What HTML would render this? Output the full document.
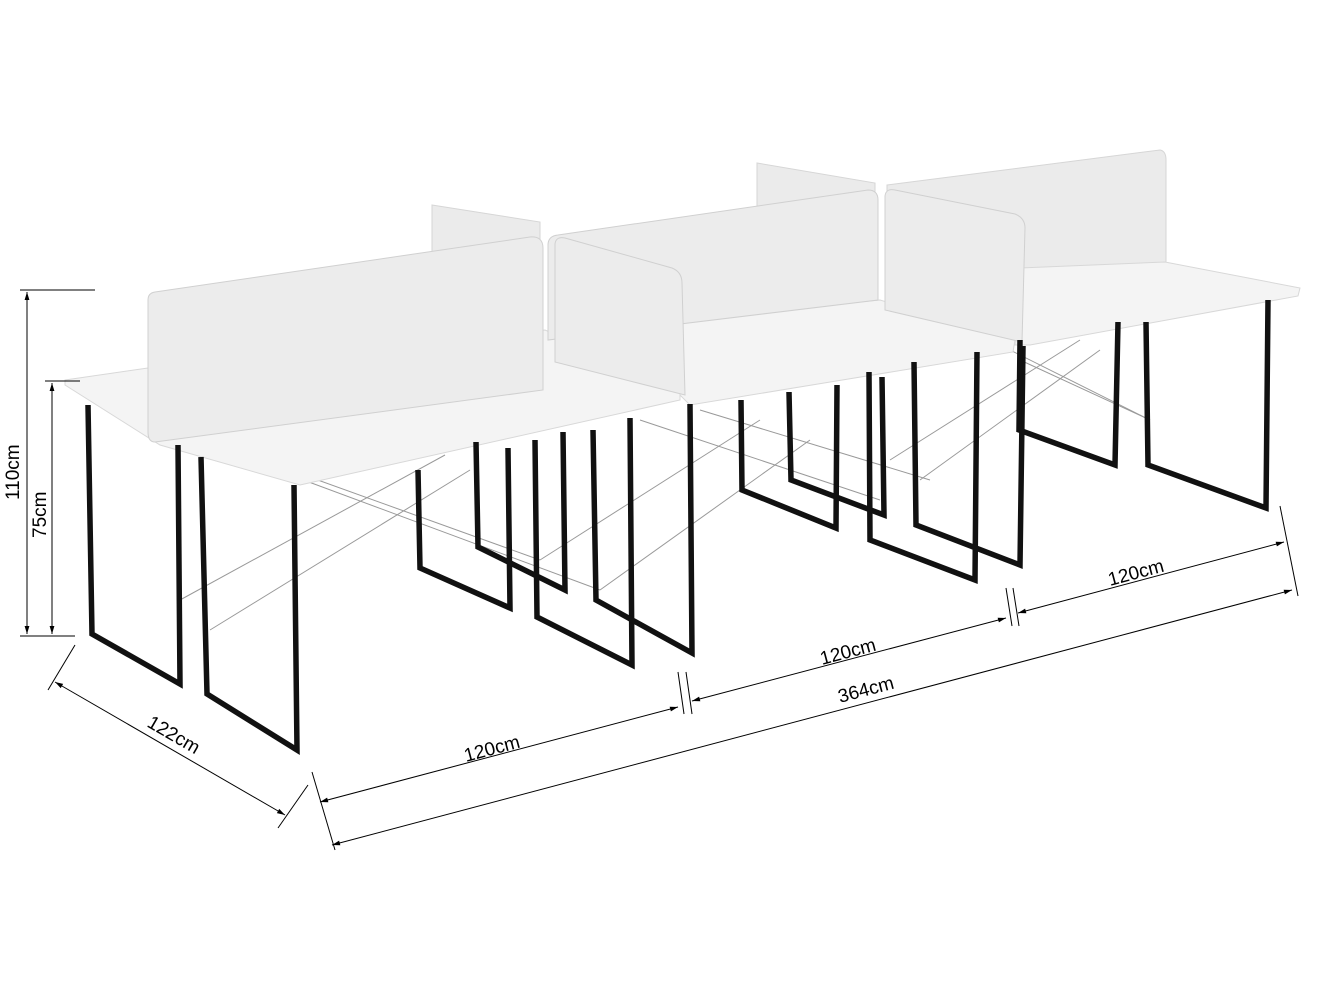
<!DOCTYPE html>
<html><head><meta charset="utf-8"><style>
html,body{margin:0;padding:0;background:#fff;width:1322px;height:991px;overflow:hidden}
svg{display:block}
text{font-family:"Liberation Sans",sans-serif;font-size:19px;fill:#000}
</style></head><body>
<svg width="1322" height="991" viewBox="0 0 1322 991" xmlns="http://www.w3.org/2000/svg">
<defs>
<marker id="a" viewBox="0 0 10 10" refX="10" refY="5" markerWidth="10" markerHeight="8" orient="auto-start-reverse"><path d="M0,2 L10,5 L0,8 z" fill="#000"/></marker>
</defs>
<g stroke="#999" stroke-width="1" fill="none">
<line x1="180" y1="600" x2="445" y2="455"/><line x1="210" y1="630" x2="470" y2="470"/>
<line x1="290" y1="470" x2="540" y2="560"/><line x1="290" y1="475" x2="600" y2="590"/>
<line x1="540" y1="560" x2="760" y2="420"/><line x1="600" y1="590" x2="810" y2="440"/>
<line x1="640" y1="420" x2="880" y2="500"/><line x1="700" y1="410" x2="930" y2="480"/>
<line x1="890" y1="460" x2="1080" y2="340"/><line x1="920" y1="480" x2="1100" y2="350"/>
<line x1="1000" y1="345" x2="1150" y2="420"/><line x1="1020" y1="360" x2="1150" y2="420"/>
</g>
<g fill="#ebebeb" stroke="#d6d6d6">
<path d="M432,205 L540,222 L540,260 L432,260 z"/>
<path d="M757,163 L875,183 L875,250 L757,250 z"/>
<path d="M887,185 L1160,150 Q1166,151 1166,160 L1166,280 L887,300 z"/>
</g>
<g fill="#f4f4f4" stroke="#d8d8d8">
<path d="M1020,268 L1165,262 L1300,288 L1298,296 L1030,345 L1015,345 z"/>
<path d="M555,330 L880,300 L1015,340 L1013,352 L690,405 L680,395 z"/>
<path d="M65,380 L148,368 L545,330 L680,388 L680,400 L300,485 L160,445 L65,385 z"/>
</g>
<g fill="#ececec" stroke="#d0d0d0">
<path d="M548,245 Q548,236 558,235 L868,190 Q878,190 878,200 L878,300 L548,340 z"/>
<path d="M155,292 L530,237 Q543,236 543,248 L543,390 L155,442 Q148,442 148,432 L148,300 Q148,293 155,292 z"/>
<path d="M555,244 Q556,236 565,238 L672,268 Q682,272 682,283 L685,395 L555,362 z"/>
<path d="M885,196 Q886,188 895,190 L1015,214 Q1025,218 1025,228 L1022,342 L885,310 z"/>
</g>
<g stroke="#111" stroke-width="5.5" fill="none">
<path d="M88,405 L92,634 L180,684 L178,445"/>
<path d="M201,457 L207,694 L297,750 L294,485"/>
<path d="M418,470 L420,568 L510,608 L508,448"/>
<path d="M476,442 L478,547 L565,590 L563,432"/>
<path d="M535,440 L537,617 L632,665 L630,418"/>
<path d="M593,430 L596,600 L692,653 L690,404"/>
<path d="M741,400 L742,490 L836,528 L837,385"/>
<path d="M789,392 L791,480 L884,515 L882,377"/>
<path d="M869,372 L870,540 L975,580 L977,352"/>
<path d="M914,362 L916,525 L1020,565 L1023,346"/>
<path d="M1020,340 L1019,430 L1115,465 L1118,322"/>
<path d="M1146,322 L1148,465 L1266,508 L1268,300"/>
</g>
<g stroke="#000" stroke-width="1" fill="none">
<line x1="20" y1="290" x2="95" y2="290"/>
<line x1="45" y1="381" x2="80" y2="381"/>
<line x1="20" y1="636" x2="75" y2="636"/>
<line x1="27" y1="292" x2="27" y2="634" marker-start="url(#a)" marker-end="url(#a)"/>
<line x1="52" y1="383" x2="52" y2="634" marker-start="url(#a)" marker-end="url(#a)"/>
<line x1="75" y1="645" x2="48" y2="690"/>
<line x1="308" y1="785" x2="278" y2="828"/>
<line x1="55" y1="682" x2="285" y2="815" marker-start="url(#a)" marker-end="url(#a)"/>
<line x1="312" y1="772" x2="335" y2="850"/>
<line x1="678" y1="672" x2="684" y2="714"/><line x1="686" y1="672" x2="692" y2="714"/>
<line x1="1006" y1="588" x2="1012" y2="626"/><line x1="1013" y1="588" x2="1019" y2="626"/>
<line x1="1280" y1="506" x2="1298" y2="596"/>
<line x1="320" y1="802" x2="678" y2="707" marker-start="url(#a)" marker-end="url(#a)"/>
<line x1="692" y1="701" x2="1006" y2="618" marker-start="url(#a)" marker-end="url(#a)"/>
<line x1="1018" y1="613" x2="1284" y2="542" marker-start="url(#a)" marker-end="url(#a)"/>
<line x1="332" y1="845" x2="1292" y2="590" marker-start="url(#a)" marker-end="url(#a)"/>
</g>
<text transform="translate(19,500) rotate(-90)">110cm</text>
<text transform="translate(46,538) rotate(-90)">75cm</text>
<text transform="translate(146,726) rotate(30)">122cm</text>
<text transform="translate(466,762) rotate(-15)">120cm</text>
<text transform="translate(822,665) rotate(-15)">120cm</text>
<text transform="translate(840,703) rotate(-15)">364cm</text>
<text transform="translate(1110,586) rotate(-15)">120cm</text>
</svg>
</body></html>
